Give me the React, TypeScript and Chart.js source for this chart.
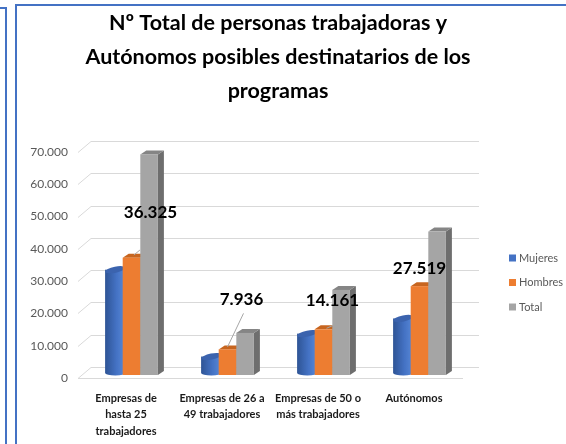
import React, { useEffect, useRef } from 'react';
import { Chart, registerables } from 'chart.js';

Chart.register(...registerables);

// ---- data ----
const categories: string[][] = [
  ['Empresas de', 'hasta 25', 'trabajadores'],
  ['Empresas de 26 a', '49 trabajadores'],
  ['Empresas de 50 o', 'más trabajadores'],
  ['Autónomos'],
];
const seriesNames = ['Mujeres', 'Hombres', 'Total'];
const mujeres = [32000, 5100, 12200, 16900];
const hombres = [36325, 7936, 14161, 27519];
const total = [68325, 13036, 26361, 44419];
const yMax = 70000;
const yStep = 10000;
const titleLines = [
  'Nº Total de personas trabajadoras y',
  'Autónomos posibles destinatarios de los',
  'programas',
];
const labelledSeries = 1; // Hombres carries the data labels

// ---- styles ----
const FONT = 'Lato, "Open Sans", sans-serif';
const frontColors = ['#4472C4', '#ED7D31', '#A5A5A5'];
const topColors = ['#3B63AE', '#C7651F', '#858585'];
const sideColors = ['#2F528F', '#B35A1C', '#6E6E6E'];
const SHIFT_X = 5.5, SHIFT_Y = -3; // bars sit mid-depth
const DEPTH_X = 6, DEPTH_Y = -4;
const WALL_X = 13, WALL_Y = -11;
const TITLE_X = 261, TITLE_Y0 = 17, TITLE_LH = 34;
// label offsets relative to bar top centre
const labelOffsets = [[19, -45], [14, -50], [9, -29], [0, -18]];
const leaderLines: (number[] | null)[] = [
  [2.4, -2.7, 8.4, -7.7],
  [0, -2.4, 16, -36],
  [3, -1, 10, -4],
  null,
];

const fmt = (v: number) => String(v).replace(/\B(?=(\d{3})+(?!\d))/g, '.');

const threeD = {
  id: 'threeD',
  beforeDatasetsDraw(chart: any) {
    const { ctx, chartArea, scales } = chart;
    const y = scales.y;
    ctx.save();
    ctx.strokeStyle = '#D9D9D9';
    ctx.lineWidth = 1;
    y.ticks.forEach((t: any) => {
      const py = Math.round(y.getPixelForValue(t.value)) + 0.5;
      ctx.beginPath();
      ctx.moveTo(chartArea.left, py);
      ctx.lineTo(chartArea.left + WALL_X, py + WALL_Y);
      ctx.lineTo(chartArea.right + WALL_X + 4, py + WALL_Y);
      ctx.stroke();
    });
    const p0 = Math.round(y.getPixelForValue(0)) + 0.5;
    ctx.beginPath();
    ctx.moveTo(chartArea.left, p0);
    ctx.lineTo(chartArea.right + 1, p0);
    ctx.stroke();

    ctx.translate(SHIFT_X, SHIFT_Y);
    const n = chart.data.labels.length;
    const nd = chart.data.datasets.length;
    for (let i = 0; i < n; i++) {
      for (let d = 0; d < nd; d++) {
        const el = chart.getDatasetMeta(d).data[i];
        const { x: cx, y: top, base, width } = el.getProps(['x', 'y', 'base', 'width'], true);
        const l = cx - width / 2, r = cx + width / 2;
        if (d === 0) {
          // cylinder-like shape
          const g = ctx.createLinearGradient(l, 0, r + DEPTH_X / 2, 0);
          g.addColorStop(0, '#2E5495');
          g.addColorStop(0.55, '#4472C4');
          g.addColorStop(1, '#5A8AD8');
          ctx.fillStyle = g;
          ctx.fillRect(l, top + DEPTH_Y / 2, width + DEPTH_X / 2, base - top);
          ctx.beginPath();
          ctx.ellipse(cx + DEPTH_X / 4, base + DEPTH_Y / 2, width / 2 + DEPTH_X / 4, 2.5, 0, 0, Math.PI);
          ctx.fill();
          ctx.fillStyle = topColors[0];
          ctx.beginPath();
          ctx.ellipse(cx + DEPTH_X / 4, top + DEPTH_Y / 2, width / 2 + DEPTH_X / 4, 3, -0.2, 0, Math.PI * 2);
          ctx.fill();
          continue;
        }
        ctx.fillStyle = sideColors[d];
        ctx.beginPath();
        ctx.moveTo(r, top);
        ctx.lineTo(r + DEPTH_X, top + DEPTH_Y);
        ctx.lineTo(r + DEPTH_X, base + DEPTH_Y);
        ctx.lineTo(r, base);
        ctx.closePath();
        ctx.fill();
        ctx.fillStyle = topColors[d];
        ctx.beginPath();
        ctx.moveTo(l, top);
        ctx.lineTo(l + DEPTH_X, top + DEPTH_Y);
        ctx.lineTo(r + DEPTH_X, top + DEPTH_Y);
        ctx.lineTo(r, top);
        ctx.closePath();
        ctx.fill();
        ctx.fillStyle = frontColors[d];
        ctx.fillRect(l, top, width, base - top);
      }
    }
    ctx.restore();
    return false;
  },
  afterDraw(chart: any) {
    const { ctx, chartArea } = chart;
    ctx.save();
    // title
    ctx.fillStyle = '#000000';
    ctx.font = `bold 21.5px ${FONT}`;
    ctx.textAlign = 'center';
    ctx.textBaseline = 'middle';
    titleLines.forEach((line, i) => ctx.fillText(line, TITLE_X, TITLE_Y0 + i * TITLE_LH));
    // data labels
    const meta = chart.getDatasetMeta(labelledSeries);
    const vals = chart.data.datasets[labelledSeries].data;
    meta.data.forEach((el: any, i: number) => {
      const { x: cx0, y: top0 } = el.getProps(['x', 'y'], true);
      const cx = cx0 + SHIFT_X, top = top0 + SHIFT_Y;
      const ll = leaderLines[i];
      if (ll) {
        ctx.strokeStyle = '#A6A6A6';
        ctx.lineWidth = 1;
        ctx.beginPath();
        ctx.moveTo(cx + ll[0], top + ll[1]);
        ctx.lineTo(cx + ll[2], top + ll[3]);
        ctx.stroke();
      }
      ctx.fillStyle = '#000000';
      ctx.font = `bold 17px ${FONT}`;
      ctx.textAlign = 'center';
      ctx.textBaseline = 'middle';
      ctx.fillText(fmt(vals[i]), cx + labelOffsets[i][0], top + labelOffsets[i][1]);
    });
    // legend
    const lx = chartArea.right + 47;
    const ly = (chartArea.top + chartArea.bottom) / 2 - 7;
    chart.data.datasets.forEach((ds: any, d: number) => {
      const yy = ly + d * 24.5;
      ctx.fillStyle = frontColors[d];
      ctx.fillRect(lx, yy - 3.5, 7, 7);
      ctx.fillStyle = '#595959';
      ctx.font = `11px ${FONT}`;
      ctx.textAlign = 'left';
      ctx.textBaseline = 'middle';
      ctx.fillText(ds.label, lx + 10, yy);
    });
    ctx.restore();
  },
};

export default function App() {
  const ref = useRef<HTMLCanvasElement>(null);
  useEffect(() => {
    let chart: Chart | null = null;
    let cancelled = false;
    const make = () => {
      if (cancelled || !ref.current) return;
      chart = new Chart(ref.current, {
        type: 'bar',
        data: {
          labels: categories,
          datasets: [
            { label: seriesNames[0], data: mujeres, backgroundColor: frontColors[0] },
            { label: seriesNames[1], data: hombres, backgroundColor: frontColors[1] },
            { label: seriesNames[2], data: total, backgroundColor: frontColors[2] },
          ],
        },
        options: {
          responsive: false,
          animation: false,
          layout: { padding: { left: 0, right: 104, top: 146, bottom: 0 } },
          datasets: { bar: { categoryPercentage: 0.55, barPercentage: 1 } },
          plugins: {
            legend: { display: false },
            tooltip: { enabled: false },
            title: { display: false },
          },
          scales: {
            x: {
              grid: { display: false },
              border: { display: false },
              ticks: {
                color: '#1a1a1a',
                font: { family: FONT, size: 11, weight: 'bold', lineHeight: 1.5 },
                padding: 4,
                maxRotation: 0,
                autoSkip: false,
              },
              afterFit(scale: any) { scale.height = 66; },
            },
            y: {
              min: 0,
              max: yMax,
              grid: { display: false },
              border: { display: false },
              ticks: {
                stepSize: yStep,
                color: '#595959',
                font: { family: FONT, size: 12 },
                padding: 2,
                callback: (v: any) => fmt(Number(v)),
              },
              afterFit(scale: any) { scale.width = 61; },
            },
          },
        },
        plugins: [threeD],
      });
    };
    const fonts = (document as any).fonts;
    if (fonts && fonts.load) {
      Promise.all([fonts.load(`bold 22px Lato`), fonts.load(`12px Lato`)]).then(make, make);
    } else make();
    return () => {
      cancelled = true;
      if (chart) chart.destroy();
    };
  }, []);

  return (
    <div style={{ position: 'fixed', left: 0, top: 0, width: 566, height: 444, background: '#ffffff', overflow: 'hidden' }}>
      <div style={{ position: 'absolute', left: 0, top: 7, width: 7, height: 2, background: '#4472C4' }} />
      <div style={{ position: 'absolute', left: 5, top: 7, width: 2, height: 437, background: '#4472C4' }} />
      <div style={{ position: 'absolute', left: 15, top: 4, width: 551, height: 2, background: '#4472C4' }} />
      <div style={{ position: 'absolute', left: 15, top: 4, width: 2, height: 440, background: '#4472C4' }} />
      <canvas ref={ref} width={549} height={438} style={{ position: 'absolute', left: 17, top: 6, width: 549, height: 438 }} />
    </div>
  );
}
